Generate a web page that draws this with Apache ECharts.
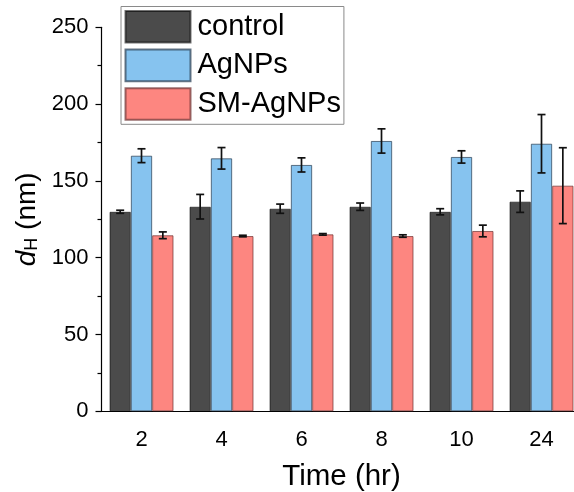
<!DOCTYPE html>
<html>
<head>
<meta charset="utf-8">
<script src="https://cdn.jsdelivr.net/npm/echarts@6/dist/echarts.min.js"></script>
<style>
html,body{margin:0;padding:0;background:#fff;}
#chart{width:574px;height:492px;}
</style>
</head>
<body>
<div id="chart"></div>
<script>
var categories = ['2', '4', '6', '8', '10', '24'];
var controlValues = [129.9, 133.2, 131.9, 133.2, 129.9, 136.5];
var controlErrors = [1.0, 8.0, 3.0, 2.4, 2.0, 7.0];
var agnpsValues = [166.4, 164.7, 160.4, 176.0, 165.6, 174.2];
var agnpsErrors = [4.5, 7.0, 4.6, 7.9, 4.0, 19.0];
var smValues = [114.6, 114.1, 115.2, 114.1, 117.4, 146.9];
var smErrors = [2.2, 0.5, 0.5, 0.8, 3.8, 24.7];
var yTicks = [0, 50, 100, 150, 200, 250];

var FONT = "'Liberation Sans', Arial, sans-serif";
var seriesDefs = [
  {name: 'control', values: controlValues, errors: controlErrors, color: '#4b4b4b', border: 'rgba(0,0,0,0.55)'},
  {name: 'AgNPs', values: agnpsValues, errors: agnpsErrors, color: '#86c3ef', border: 'rgba(40,60,80,0.7)'},
  {name: 'SM-AgNPs', values: smValues, errors: smErrors, color: '#fd8680', border: 'rgba(110,50,50,0.7)'}
];

var series = [];
seriesDefs.forEach(function (s) {
  series.push({
    name: s.name,
    type: 'bar',
    data: s.values,
    barGap: '0%',
    barCategoryGap: '20%',
    itemStyle: {color: s.color, borderColor: s.border, borderWidth: 1},
    emphasis: {disabled: true}
  });
});
seriesDefs.forEach(function (s, k) {
  var errData = s.values.map(function (v, i) { return [i, v - s.errors[i], v + s.errors[i]]; });
  series.push({
    type: 'custom',
    name: s.name + ' err',
    data: errData,
    z: 5,
    silent: true,
    renderItem: function (params, api) {
      var band = api.size([1, 0])[0];
      var bw = band * 0.8 / 3;
      var off = (k - 1) * bw;
      var lo = api.coord([api.value(0), api.value(1)]);
      var hi = api.coord([api.value(0), api.value(2)]);
      var x = lo[0] + off;
      var cap = 4;
      var st = {stroke: '#111', lineWidth: 1.7};
      return {
        type: 'group',
        children: [
          {type: 'line', shape: {x1: x, y1: lo[1], x2: x, y2: hi[1]}, style: st},
          {type: 'line', shape: {x1: x - cap, y1: lo[1], x2: x + cap, y2: lo[1]}, style: st},
          {type: 'line', shape: {x1: x - cap, y1: hi[1], x2: x + cap, y2: hi[1]}, style: st}
        ]
      };
    }
  });
});

var chart = echarts.init(document.getElementById('chart'), null, {renderer: 'canvas'});
chart.setOption({
  animation: false,
  backgroundColor: '#fff',
  textStyle: {fontFamily: FONT},
  grid: {left: 101.5, top: 27.3, width: 480, height: 384, containLabel: false, outerBoundsMode: 'none'},
  legend: {
    data: ['control', 'AgNPs', 'SM-AgNPs'],
    orient: 'vertical',
    left: 121,
    top: 6.5,
    icon: 'rect',
    itemWidth: 65,
    itemHeight: 31.6,
    itemGap: 5,
    padding: [3.5, 3, 3.5, 3.5],
    borderColor: '#8a8a8a',
    borderWidth: 1,
    backgroundColor: '#fff',
    selectedMode: false,
    textStyle: {fontSize: 29, color: '#000', fontFamily: FONT, padding: [0, 0, 0, 2]}
  },
  xAxis: [{
    type: 'category',
    data: categories,
    position: 'bottom',
    axisLine: {lineStyle: {color: '#000', width: 1.2}},
    axisTick: {alignWithLabel: true, inside: false, length: 7, lineStyle: {color: '#000', width: 1.2}},
    axisLabel: {fontSize: 22, color: '#000', margin: 18, fontFamily: FONT},
    name: 'Time (hr)',
    nameLocation: 'middle',
    nameGap: 51,
    nameTextStyle: {fontSize: 29.5, color: '#000', fontFamily: FONT},
    splitLine: {show: false}
  }, {
    type: 'category',
    data: categories,
    position: 'bottom',
    axisLine: {show: false},
    axisTick: {alignWithLabel: false, length: 4, lineStyle: {color: '#000', width: 1.2}},
    axisLabel: {show: false},
    splitLine: {show: false}
  }],
  yAxis: {
    type: 'value',
    min: yTicks[0],
    max: yTicks[yTicks.length - 1],
    interval: 50,
    axisLine: {show: true, lineStyle: {color: '#000', width: 1.2}},
    axisTick: {show: true, length: 6, lineStyle: {color: '#000', width: 1.2}},
    minorTick: {show: true, splitNumber: 2, length: 4, lineStyle: {color: '#000', width: 1.2}},
    axisLabel: {fontSize: 22, color: '#000', margin: 13, fontFamily: FONT},
    splitLine: {show: false},
    name: '{i|d}{sub|H}{n| (nm)}',
    nameLocation: 'middle',
    nameRotate: 90,
    nameGap: 53,
    nameTextStyle: {
      color: '#000',
      fontFamily: FONT,
      fontSize: 28,
      rich: {
        i: {fontSize: 28, fontStyle: 'italic', fontFamily: FONT, color: '#000', verticalAlign: 'bottom'},
        sub: {fontSize: 18, fontFamily: FONT, color: '#000', padding: [12, 0, 0, 0], verticalAlign: 'bottom'},
        n: {fontSize: 28, fontFamily: FONT, color: '#000', verticalAlign: 'bottom'}
      }
    }
  },
  series: series
});
</script>
</body>
</html>
